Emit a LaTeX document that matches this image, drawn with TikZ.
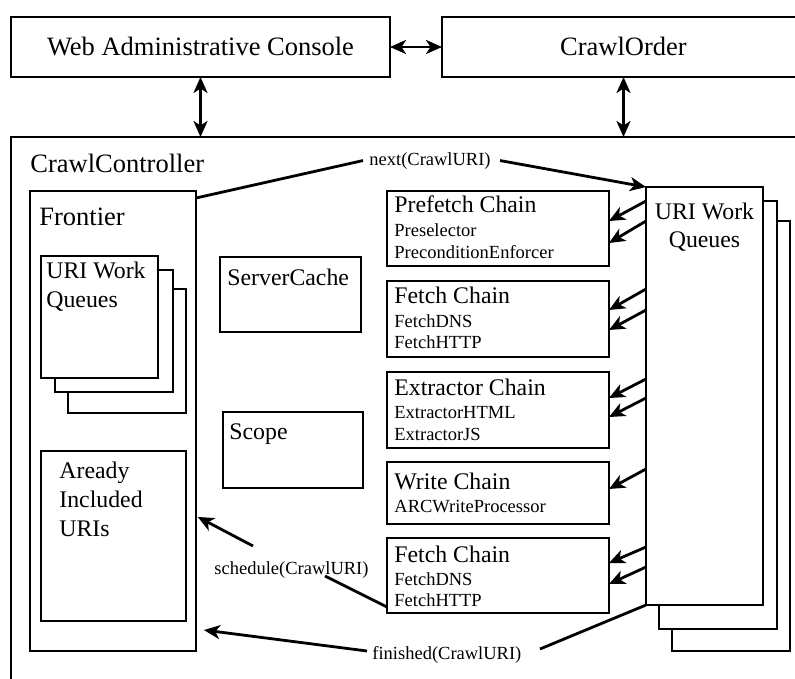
\documentclass[tikz,border=0pt]{standalone}
\usepackage{fontspec}
\setmainfont{Liberation Serif}
\usetikzlibrary{arrows.meta}
\begin{document}
\begin{tikzpicture}[x=1pt,y=-1pt,line width=2.8pt,
  box/.style={draw,line width=2.8pt,inner sep=0pt,outer sep=0pt,anchor=north west,fill=white},
  lbl/.style={inner sep=0pt,anchor=base west},
  ctr/.style={inner sep=0pt,anchor=base},
  fA/.style={font=\fontsize{26.5}{30}\selectfont},
  fB/.style={font=\fontsize{23.8}{28}\selectfont},
  fC/.style={font=\fontsize{18.5}{22}\selectfont},
  arr/.style={-{Stealth[length=16pt,width=14pt,inset=4.5pt]},line width=2.8pt},
  darr/.style={{Stealth[length=16pt,width=14pt,inset=4.5pt]}-{Stealth[length=16pt,width=14pt,inset=4.5pt]},line width=2.8pt}]
\useasboundingbox (0,0) rectangle (795,678);
\clip (0,0) rectangle (795,678);

% top boxes
\node[box,minimum width=379pt,minimum height=60pt] (web) at (11,17) {};
\node[box,minimum width=363pt,minimum height=60pt] (order) at (442,17) {};
\node[ctr,fA] (webT) at (200.5,55) {Web Administrative Console};
\node[ctr,fA] (orderT) at (623.5,55) {CrawlOrder};

% controller
\node[box,minimum width=800pt,minimum height=600pt] (ctrl) at (11,137) {};
\node[lbl,fA] (ctrlT) at (29,172) {CrawlController};

\draw[darr] (web) -- (order);
\draw[darr] (web.south) -- (web.south |- ctrl.north);
\draw[darr] (order.south) -- (order.south |- ctrl.north);

% frontier
\node[box,minimum width=166pt,minimum height=460pt] (frontier) at (30,191) {};
\node[lbl,fA] (frontierT) at (38,225) {Frontier};
\node[box,minimum width=118pt,minimum height=124pt] (lq3) at (68,289) {};
\node[box,minimum width=118pt,minimum height=122pt] (lq2) at (55,270) {};
\node[box,minimum width=117pt,minimum height=122pt] (lq1) at (41,256) {};
\node[lbl,fB] (lqT1) at (45,278) {URI Work};
\node[lbl,fB] (lqT2) at (45,307) {Queues};
\node[box,minimum width=145pt,minimum height=170pt] (already) at (41,451) {};
\node[lbl,fB] (alT1) at (58,478) {Aready};
\node[lbl,fB] (alT2) at (58,507) {Included};
\node[lbl,fB] (alT3) at (58,536) {URIs};

% server cache, scope
\node[box,minimum width=141pt,minimum height=75pt] (cache) at (220,257) {};
\node[lbl,fB] (cacheT) at (226,285) {ServerCache};
\node[box,minimum width=140pt,minimum height=76pt] (scope) at (223,412) {};
\node[lbl,fB] (scopeT) at (228,439) {Scope};

% chains
\node[box,minimum width=222pt,minimum height=75pt] (pre) at (387,191) {};
\node[lbl,fB] (preT) at (393,212) {Prefetch Chain};
\node[lbl,fC] (preS1) at (393,236) {Preselector};
\node[lbl,fC] (preS2) at (393,258) {PreconditionEnforcer};

\node[box,minimum width=222pt,minimum height=76pt] (fetchA) at (387,281) {};
\node[lbl,fB] (fetchAT) at (393,303) {Fetch Chain};
\node[lbl,fC] (fetchAS1) at (393,327) {FetchDNS};
\node[lbl,fC] (fetchAS2) at (393,348) {FetchHTTP};

\node[box,minimum width=222pt,minimum height=76pt] (ext) at (387,372) {};
\node[lbl,fB] (extT) at (393,395) {Extractor Chain};
\node[lbl,fC] (extS1) at (393,418) {ExtractorHTML};
\node[lbl,fC] (extS2) at (393,440) {ExtractorJS};

\node[box,minimum width=222pt,minimum height=62pt] (write) at (387,462) {};
\node[lbl,fB] (writeT) at (393,489) {Write Chain};
\node[lbl,fC] (writeS1) at (393,512) {ARCWriteProcessor};

\node[box,minimum width=222pt,minimum height=75pt] (fetchB) at (387,538) {};
\node[lbl,fB] (fetchBT) at (393,562) {Fetch Chain};
\node[lbl,fC] (fetchBS1) at (393,585) {FetchDNS};
\node[lbl,fC] (fetchBS2) at (393,606) {FetchHTTP};

% right queues
\node[box,minimum width=118pt,minimum height=430pt] (uq3) at (672,221) {};
\node[box,minimum width=118pt,minimum height=428pt] (uq2) at (659,201) {};
\node[box,minimum width=117pt,minimum height=418pt] (uq1) at (646,187) {};
\node[ctr,fB] (uqT1) at (704.5,219) {URI Work};
\node[ctr,fB] (uqT2) at (704.5,247) {Queues};

% queue -> chain arrows
\draw[arr] (uq1.west |- 0,201) -- (pre.east |- 0,221);
\draw[arr] (uq1.west |- 0,221) -- (pre.east |- 0,243);
\draw[arr] (uq1.west |- 0,289) -- (fetchA.east |- 0,310);
\draw[arr] (uq1.west |- 0,310) -- (fetchA.east |- 0,330);
\draw[arr] (uq1.west |- 0,379) -- (ext.east |- 0,398);
\draw[arr] (uq1.west |- 0,398) -- (ext.east |- 0,417);
\draw[arr] (uq1.west |- 0,469) -- (write.east |- 0,489);
\draw[arr] (uq1.west |- 0,547) -- (fetchB.east |- 0,563);
\draw[arr] (uq1.west |- 0,567) -- (fetchB.east |- 0,584);

% next
\node[lbl,fC] (nextT) at (368,165) {next(CrawlURI)};
\draw (frontier.east |- 0,198) -- ([xshift=-5pt]nextT.west);
\draw[arr] ([xshift=8pt]nextT.east) -- (uq1.north west);

% schedule
\node[lbl,fC] (schedT) at (213,574) {schedule(CrawlURI)};
\coordinate (sA) at (325,576);
\coordinate (sB) at (253,546);
\draw (fetchB.west |- 0,607) -- (sA);
\draw[arr,shorten >=2pt] (sB) -- (frontier.east |- 0,516);

% finished
\node[lbl,fC] (finT) at (371,659) {finished(CrawlURI)};
\coordinate (fA) at (540,649);
\coordinate (fB) at (367,651);
\draw (uq1.south west) -- (fA);
\draw[arr,shorten >=8pt] (fB) -- (frontier.east |- 0,629);
\end{tikzpicture}
\end{document}
